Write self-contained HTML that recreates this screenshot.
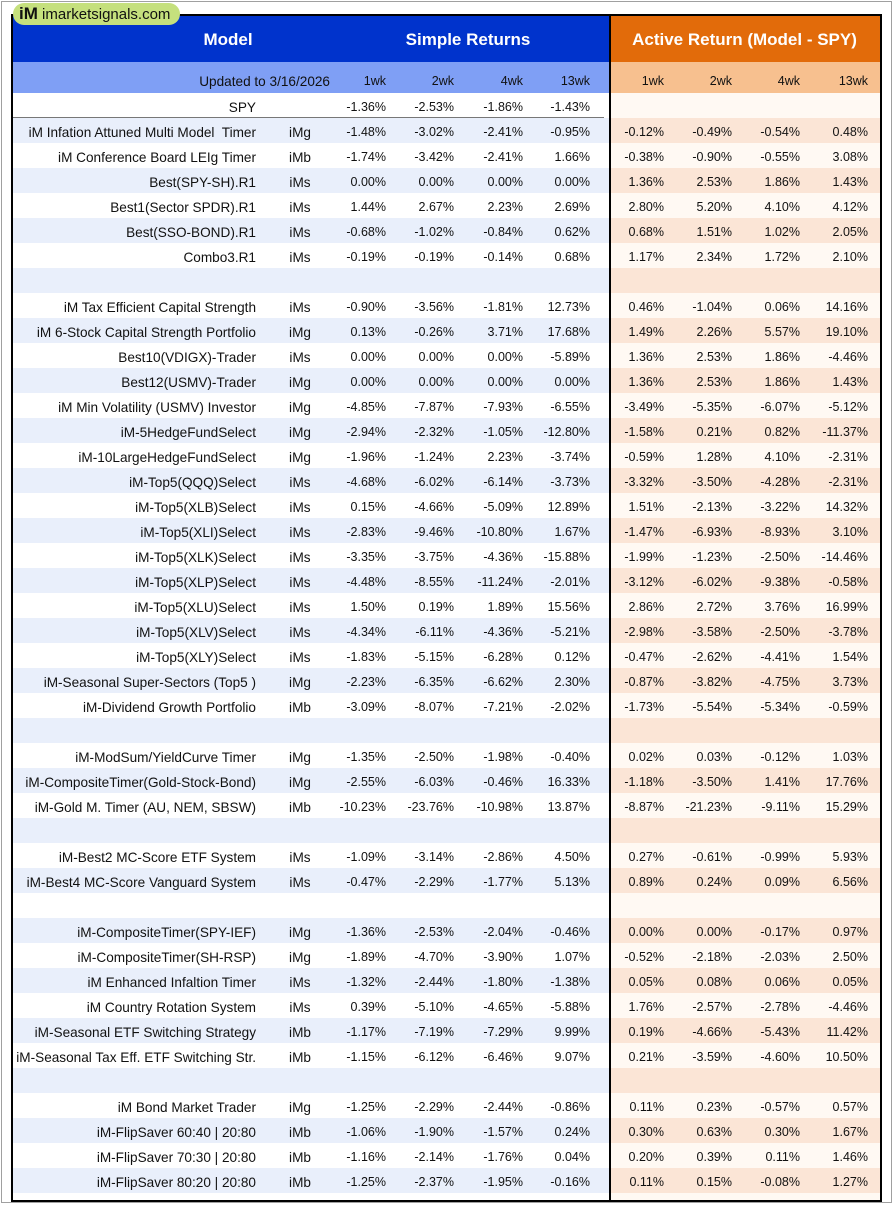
<!DOCTYPE html>
<html><head><meta charset="utf-8">
<style>
body{margin:0;width:895px;height:1206px;background:#fff;font-family:"Liberation Sans",sans-serif;position:relative;overflow:hidden}
#frame{position:absolute;left:1px;top:1px;width:891px;height:1202px;border:1px solid #a0a0a0;box-sizing:border-box}
#box{position:absolute;left:11px;top:14px;width:871px;height:1188px;border:2px solid #000;box-sizing:border-box;overflow:hidden}
.c{position:absolute;font-size:12.5px;color:#111;white-space:nowrap;line-height:25px;padding-top:2px}
.n{font-size:13.6px}
.r{text-align:right}
.h{color:#fff;font-weight:bold;font-size:17px;position:absolute;line-height:47px;text-align:center}
#logo{position:absolute;left:13px;top:3px;width:167px;height:22px;background:#c5e07d;border-radius:11px;font-size:15px;line-height:22px;color:#111;z-index:3;white-space:nowrap;overflow:hidden}
</style></head><body>
<div id="frame"></div>
<div id="box">
  <div style="position:absolute;left:0;top:0;width:596px;height:46px;background:#0033cc"></div>
  <div style="position:absolute;left:596px;top:0;width:271px;height:46px;background:#e26b0a"></div>
  <div style="position:absolute;left:0;top:46px;width:596px;height:31px;background:#7f9ff5"></div>
  <div style="position:absolute;left:596px;top:46px;width:271px;height:31px;background:#f7c08f"></div>
  <div class="h" style="left:160px;width:110px;top:0">Model</div>
  <div class="h" style="left:365px;width:180px;top:0">Simple Returns</div>
  <div class="h" style="left:596px;width:271px;top:0">Active Return (Model - SPY)</div>
  <div id="rows"></div>
  <div style="position:absolute;left:596px;top:0;width:2px;height:1190px;background:#000"></div>
</div>
<div id="logo"><b style="margin-left:6px;font-size:17px">iM</b> imarketsignals.com</div>
<script>
const names=["SPY","iM Infation Attuned Multi Model  Timer","iM Conference Board LEIg Timer","Best(SPY-SH).R1","Best1(Sector SPDR).R1","Best(SSO-BOND).R1","Combo3.R1","","iM Tax Efficient Capital Strength","iM 6-Stock Capital Strength Portfolio","Best10(VDIGX)-Trader","Best12(USMV)-Trader","iM Min Volatility (USMV) Investor","iM-5HedgeFundSelect","iM-10LargeHedgeFundSelect","iM-Top5(QQQ)Select","iM-Top5(XLB)Select","iM-Top5(XLI)Select","iM-Top5(XLK)Select","iM-Top5(XLP)Select","iM-Top5(XLU)Select","iM-Top5(XLV)Select","iM-Top5(XLY)Select","iM-Seasonal Super-Sectors (Top5 )","iM-Dividend Growth Portfolio","","iM-ModSum/YieldCurve Timer","iM-CompositeTimer(Gold-Stock-Bond)","iM-Gold M. Timer (AU, NEM, SBSW)","","iM-Best2 MC-Score ETF System","iM-Best4 MC-Score Vanguard System","","iM-CompositeTimer(SPY-IEF)","iM-CompositeTimer(SH-RSP)","iM Enhanced Infaltion Timer","iM Country Rotation System","iM-Seasonal ETF Switching Strategy","iM-Seasonal Tax Eff. ETF Switching Str.","","iM Bond Market Trader","iM-FlipSaver 60:40 | 20:80","iM-FlipSaver 70:30 | 20:80","iM-FlipSaver 80:20 | 20:80"];
const types=["","iMg","iMb","iMs","iMs","iMs","iMs","","iMs","iMg","iMs","iMg","iMg","iMg","iMg","iMs","iMs","iMs","iMs","iMs","iMs","iMs","iMs","iMg","iMb","","iMg","iMg","iMb","","iMs","iMs","","iMg","iMg","iMs","iMs","iMb","iMb","","iMg","iMb","iMb","iMb"];
const simple=[[-1.36,-2.53,-1.86,-1.43],[-1.48,-3.02,-2.41,-0.95],[-1.74,-3.42,-2.41,1.66],[0,0,0,0],[1.44,2.67,2.23,2.69],[-0.68,-1.02,-0.84,0.62],[-0.19,-0.19,-0.14,0.68],null,[-0.90,-3.56,-1.81,12.73],[0.13,-0.26,3.71,17.68],[0,0,0,-5.89],[0,0,0,0],[-4.85,-7.87,-7.93,-6.55],[-2.94,-2.32,-1.05,-12.80],[-1.96,-1.24,2.23,-3.74],[-4.68,-6.02,-6.14,-3.73],[0.15,-4.66,-5.09,12.89],[-2.83,-9.46,-10.80,1.67],[-3.35,-3.75,-4.36,-15.88],[-4.48,-8.55,-11.24,-2.01],[1.50,0.19,1.89,15.56],[-4.34,-6.11,-4.36,-5.21],[-1.83,-5.15,-6.28,0.12],[-2.23,-6.35,-6.62,2.30],[-3.09,-8.07,-7.21,-2.02],null,[-1.35,-2.50,-1.98,-0.40],[-2.55,-6.03,-0.46,16.33],[-10.23,-23.76,-10.98,13.87],null,[-1.09,-3.14,-2.86,4.50],[-0.47,-2.29,-1.77,5.13],null,[-1.36,-2.53,-2.04,-0.46],[-1.89,-4.70,-3.90,1.07],[-1.32,-2.44,-1.80,-1.38],[0.39,-5.10,-4.65,-5.88],[-1.17,-7.19,-7.29,9.99],[-1.15,-6.12,-6.46,9.07],null,[-1.25,-2.29,-2.44,-0.86],[-1.06,-1.90,-1.57,0.24],[-1.16,-2.14,-1.76,0.04],[-1.25,-2.37,-1.95,-0.16]];
const active=[null,[-0.12,-0.49,-0.54,0.48],[-0.38,-0.90,-0.55,3.08],[1.36,2.53,1.86,1.43],[2.80,5.20,4.10,4.12],[0.68,1.51,1.02,2.05],[1.17,2.34,1.72,2.10],null,[0.46,-1.04,0.06,14.16],[1.49,2.26,5.57,19.10],[1.36,2.53,1.86,-4.46],[1.36,2.53,1.86,1.43],[-3.49,-5.35,-6.07,-5.12],[-1.58,0.21,0.82,-11.37],[-0.59,1.28,4.10,-2.31],[-3.32,-3.50,-4.28,-2.31],[1.51,-2.13,-3.22,14.32],[-1.47,-6.93,-8.93,3.10],[-1.99,-1.23,-2.50,-14.46],[-3.12,-6.02,-9.38,-0.58],[2.86,2.72,3.76,16.99],[-2.98,-3.58,-2.50,-3.78],[-0.47,-2.62,-4.41,1.54],[-0.87,-3.82,-4.75,3.73],[-1.73,-5.54,-5.34,-0.59],null,[0.02,0.03,-0.12,1.03],[-1.18,-3.50,1.41,17.76],[-8.87,-21.23,-9.11,15.29],null,[0.27,-0.61,-0.99,5.93],[0.89,0.24,0.09,6.56],null,[0,0,-0.17,0.97],[-0.52,-2.18,-2.03,2.50],[0.05,0.08,0.06,0.05],[1.76,-2.57,-2.78,-4.46],[0.19,-4.66,-5.43,11.42],[0.21,-3.59,-4.60,10.50],null,[0.11,0.23,-0.57,0.57],[0.30,0.63,0.30,1.67],[0.20,0.39,0.11,1.46],[0.11,0.15,-0.08,1.27]];
const colHeads=["1wk","2wk","4wk","13wk"];
const box=document.getElementById('rows');
function cell(txt,x,y,w,cls,name){const d=document.createElement('div');d.className='c '+(cls||'');d.style.left=x+'px';d.style.top=y+'px';if(w)d.style.width=w+'px';d.textContent=txt;


box.appendChild(d);return d;}
const sEnd=[373,441,510,577],aEnd=[651,719,787,855];
cell("Updated to 3/16/2026",0,51,317,'r n','updated-date');
colHeads.forEach((h,j)=>{cell(h,sEnd[j]-60,51,60,'r','simple-head-'+h);cell(h,aEnd[j]-60,51,60,'r','active-head-'+h);});
const top0=77,rh=25;
names.forEach((n,i)=>{
  const y=top0+i*rh;
  const bl=document.createElement('div');bl.style.cssText=`position:absolute;left:0;top:${y}px;width:596px;height:${rh}px;background:${i%2?'#e9effb':'#fff'}`;
  
  
  box.appendChild(bl);
  const br=document.createElement('div');br.style.cssText=`position:absolute;left:596px;top:${y}px;width:271px;height:${rh}px;background:${i%2?'#fbe5d6':'#fff9f3'}`;
  
  
  box.appendChild(br);
  if(n)cell(n.replace(/  /g,'\u00a0 '),-100,y,343,'r n','model-name');
  if(types[i])cell(types[i],265,y,44,'n','model-type').style.textAlign='center';
  if(simple[i])simple[i].forEach((v,j)=>cell(v.toFixed(2)+'%',sEnd[j]-65,y,65,'r','simple-return'));
  if(active[i])active[i].forEach((v,j)=>cell(v.toFixed(2)+'%',aEnd[j]-65,y,65,'r','active-return'));
});
const wb=document.createElement('div');wb.style.cssText=`position:absolute;left:0;top:${top0+names.length*rh}px;width:596px;height:20px;background:#fff`;


box.appendChild(wb);
const wb2=document.createElement('div');wb2.style.cssText=`position:absolute;left:596px;top:${top0+names.length*rh}px;width:271px;height:20px;background:#fff9f3`;


box.appendChild(wb2);
const ln=document.createElement('div');ln.style.cssText=`position:absolute;left:0;top:${top0+rh-1}px;width:591px;height:1px;background:#777`;


box.appendChild(ln);
</script>
</body></html>
